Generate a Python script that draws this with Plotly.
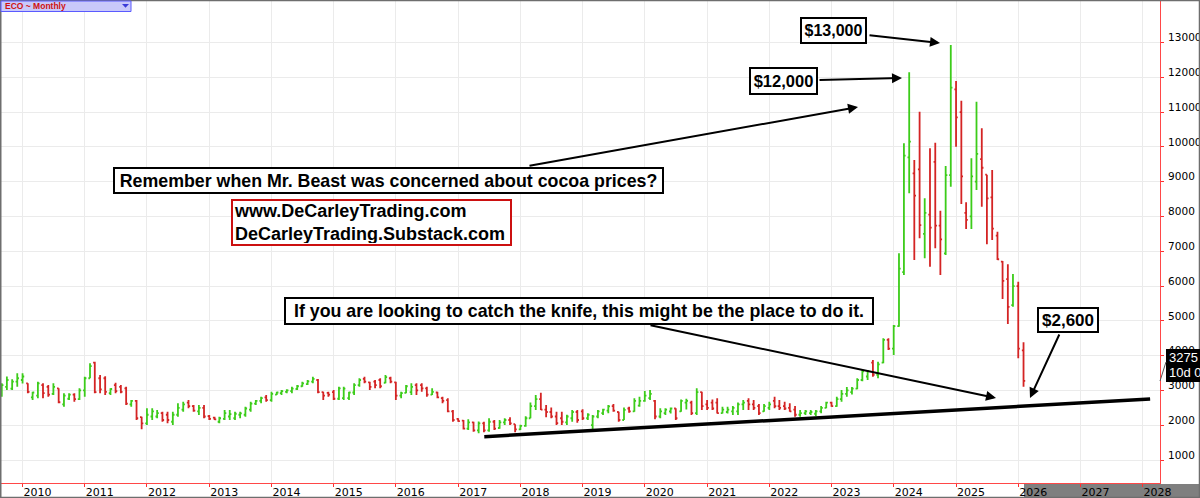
import pandas as pd
import plotly.graph_objects as go

# ---------------- data (monthly OHLC, Sep 2009 .. Feb 2026) ----------------
months = pd.date_range("2009-09-01", periods=198, freq="MS")

open_ = [
    2850, 3100, 3050, 3250,
    3300, 3200, 2800, 2850, 3150, 3100, 2900, 3060, 2600, 2760, 2880, 2750,
    3000, 3350, 3800, 3350, 3350, 2920, 3150, 3100, 3060, 2600, 2700, 2230,
    2050, 2250, 2250, 2350, 2300, 2100, 2300, 2450, 2650, 2550, 2400, 2500,
    2260, 2220, 2100, 2180, 2250, 2200, 2300, 2300, 2450, 2620, 2700, 2800,
    2720, 2880, 2920, 2960, 2980, 3040, 3120, 3180, 3250, 3300, 2950, 2930,
    2950, 2760, 2780, 2780, 2940, 3150, 3330, 3230, 3250, 3300, 3220, 3350,
    3230, 2850, 2930, 2950, 3150, 3150, 3060, 2880, 2940, 2780, 2720, 2400,
    2180, 2130, 1900, 2080, 1850, 2050, 1850, 2100, 1920, 2080, 2150, 2030,
    1880, 1980, 2200, 2550, 2750, 2450, 2380, 2250, 2200, 2080, 2200, 2380,
    2400, 2200, 2000, 2250, 2350, 2420, 2550, 2380, 2150, 2480, 2400, 2560,
    2700, 2780, 2700, 2250, 2350, 2400, 2480, 2400, 2650, 2650, 2350, 2950,
    2600, 2650, 2650, 2350, 2380, 2400, 2400, 2600, 2700, 2600, 2550, 2400,
    2500, 2700, 2550, 2550, 2500, 2450, 2300, 2350, 2350, 2330, 2400, 2500,
    2650, 2550, 2750, 2900, 2950, 3050, 3300, 3400, 3800, 3450, 3800, 4450,
    4200, 4850, 6400, 9700, 9240, 9350, 7500, 8050, 9570, 7735, 6940, 9190,
    11650, 11000, 8100, 8000, 9000, 9650, 9200, 8550, 7450, 6700, 6200, 5450,
    6000, 4150,
]
high = [
    3204, 3400, 3320, 3490,
    3490, 3204, 2964, 3250, 3204, 3156, 3204, 3060, 2916, 2916, 2916, 3060,
    3395, 3778, 3826, 3443, 3410, 3060, 3222, 3156, 3108, 2725, 2725, 2246,
    2485, 2485, 2437, 2389, 2389, 2389, 2629, 2677, 2725, 2581, 2581, 2581,
    2293, 2246, 2246, 2437, 2437, 2389, 2389, 2533, 2677, 2725, 2820, 2868,
    2964, 2964, 3012, 3030, 3108, 3156, 3251, 3299, 3395, 3330, 2964, 2964,
    3012, 3108, 3108, 2964, 3204, 3347, 3395, 3251, 3299, 3347, 3443, 3395,
    3251, 2964, 3156, 3204, 3204, 3204, 3108, 3060, 2964, 2820, 2772, 2437,
    2200, 2150, 2170, 2100, 2110, 2100, 2197, 2150, 2150, 2197, 2230, 2030,
    2010, 2260, 2650, 2870, 2930, 2580, 2510, 2390, 2390, 2300, 2437, 2437,
    2460, 2341, 2293, 2437, 2470, 2580, 2610, 2389, 2510, 2533, 2772, 2820,
    2980, 3012, 2724, 2485, 2485, 2510, 2485, 2740, 2760, 2700, 3060, 2964,
    2724, 2740, 2772, 2530, 2530, 2550, 2650, 2724, 2772, 2724, 2610, 2610,
    2676, 2820, 2724, 2676, 2628, 2550, 2437, 2437, 2437, 2437, 2550, 2676,
    2676, 2820, 3012, 3100, 3100, 3347, 3600, 3590, 3874, 3826, 4497, 4497,
    4880, 6940, 10101, 12142, 9622, 11011, 8520, 9958, 10120, 8166, 9450, 12927,
    11892, 11327, 8405, 9670, 11298, 10532, 9200, 9335, 7562, 6720, 6623, 6345,
    6125, 4382,
]
low = [
    2820, 3012, 3012, 3108,
    3200, 2916, 2725, 2772, 2772, 2820, 2868, 2629, 2533, 2725, 2677, 2725,
    2820, 3347, 2916, 2916, 2868, 2868, 2916, 2916, 2581, 2533, 2150, 1882,
    2006, 2150, 2198, 2102, 2054, 2006, 2246, 2389, 2485, 2389, 2293, 2198,
    2150, 2150, 2054, 2150, 2150, 2150, 2198, 2246, 2389, 2581, 2629, 2677,
    2677, 2868, 2868, 2916, 2916, 3012, 3108, 3156, 3204, 2916, 2725, 2820,
    2725, 2725, 2725, 2725, 2868, 3108, 3204, 3012, 3060, 3060, 3204, 3204,
    2725, 2772, 2916, 2868, 2868, 2964, 2820, 2868, 2772, 2630, 2370, 2102,
    2100, 1880, 1862, 1814, 1766, 1800, 1814, 1862, 1900, 2006, 2006, 1800,
    1860, 1958, 2197, 2437, 2440, 2230, 2200, 2006, 2006, 2006, 2102, 2070,
    2150, 2150, 1882, 2197, 2293, 2341, 2389, 2102, 2150, 2360, 2389, 2533,
    2676, 2724, 2170, 2197, 2293, 2340, 2150, 2390, 2450, 2290, 2290, 2437,
    2437, 2437, 2340, 2340, 2340, 2290, 2290, 2437, 2437, 2437, 2293, 2389,
    2437, 2485, 2437, 2437, 2389, 2245, 2245, 2293, 2293, 2265, 2341, 2485,
    2532, 2532, 2676, 2820, 2880, 3030, 3260, 3299, 3395, 3347, 3780, 4164,
    4018, 4833, 6317, 8664, 6748, 7371, 6796, 6557, 7084, 6317, 6892, 8855,
    10005, 8357, 7639, 7639, 8760, 8280, 7198, 7323, 6748, 5627, 4909, 5407,
    3922, 3108,
]
close = [
    3150, 3300, 3250, 3350,
    3400, 2960, 2940, 3200, 2920, 2880, 3100, 2660, 2850, 2880, 2750, 3000,
    3350, 3700, 2950, 3030, 2960, 3040, 2980, 2960, 2620, 2700, 2200, 2050,
    2300, 2400, 2350, 2150, 2150, 2300, 2500, 2600, 2550, 2420, 2500, 2250,
    2180, 2170, 2200, 2350, 2320, 2330, 2340, 2480, 2620, 2700, 2780, 2720,
    2900, 2940, 2980, 3000, 3050, 3120, 3200, 3260, 3330, 2950, 2850, 2880,
    2760, 3060, 3050, 2940, 3150, 3300, 3250, 3100, 3150, 3120, 3380, 3250,
    2850, 2920, 3120, 3100, 3000, 3060, 2880, 2960, 2800, 2700, 2400, 2150,
    2120, 1900, 2080, 1850, 2050, 1850, 2100, 1900, 2080, 2150, 2050, 1880,
    1980, 2200, 2550, 2750, 2450, 2380, 2250, 2060, 2100, 2250, 2380, 2150,
    2200, 2300, 2250, 2400, 2450, 2540, 2420, 2150, 2440, 2400, 2700, 2700,
    2850, 2900, 2250, 2400, 2450, 2480, 2200, 2700, 2700, 2350, 2950, 2550,
    2500, 2480, 2350, 2450, 2450, 2500, 2600, 2650, 2600, 2500, 2350, 2550,
    2600, 2550, 2500, 2480, 2400, 2300, 2350, 2400, 2380, 2400, 2500, 2650,
    2550, 2750, 2900, 3000, 3050, 3300, 3550, 3550, 3450, 3750, 4450, 4200,
    4850, 6500, 9750, 10150, 8600, 7750, 8100, 7680, 7735, 7340, 9190, 11700,
    10850, 9150, 7900, 9150, 9800, 9400, 8520, 7650, 6770, 6150, 5400, 6000,
    4200, 3275,
]

y_ticks = [1000, 2000, 3000, 4000, 5000, 6000, 7000, 8000, 9000, 10000, 11000, 12000, 13000]
trend_x = ["2017-06-03", "2028-02-14"]
trend_y = [1670, 2753]
last_price = "3275"

# ---------------- geometry helpers (layout only) ----------------
W, H = 1200, 498
ML, MR, MT, MB = 1, 40, 1, 15
PW = W - ML - MR
PH = H - MT - MB


def px(X):
    return (X - ML) / PW


def py(Y):
    return (H - MB - Y) / PH


fig = go.Figure()
fig.add_trace(go.Ohlc(
    x=months, open=open_, high=high, low=low, close=close,
    increasing=dict(line=dict(color="#3ccc1a", width=1.8)),
    decreasing=dict(line=dict(color="#d42424", width=1.8)),
    tickwidth=0.35, hoverinfo="skip", showlegend=False,
))
fig.add_trace(go.Scatter(
    x=trend_x, y=trend_y, mode="lines",
    line=dict(color="black", width=3.5), hoverinfo="skip", showlegend=False,
))

grid = "#ebebeb"
fig.update_layout(
    width=W, height=H,
    margin=dict(l=ML, r=MR, t=MT, b=MB, autoexpand=False),
    paper_bgcolor="white", plot_bgcolor="white",
    showlegend=False,
    xaxis=dict(
        type="date", range=["2009-08-27 12:00", "2028-04-12"],
        rangeslider=dict(visible=False), automargin=False,
        dtick="M12", tick0="2010-01-01", tickformat="%Y",
        showgrid=True, gridcolor=grid, gridwidth=1,
        ticks="outside", ticklen=3, tickcolor="#ff3030",
        showline=True, linecolor="#ff4848", linewidth=1,
        zeroline=False, ticklabelshift=15, ticklabelstandoff=-4,
        tickfont=dict(family="DejaVu Sans", size=11, color="black"),
        fixedrange=True,
    ),
    yaxis=dict(
        side="right", range=[339, 14192], automargin=False,
        tickvals=y_ticks, ticktext=[str(v) for v in y_ticks],
        showgrid=True, gridcolor=grid, gridwidth=1,
        ticks="outside", ticklen=3, tickcolor="#ff3030",
        showline=True, linecolor="#ff4848", linewidth=1,
        zeroline=False, ticklabelshift=-5, ticklabelstandoff=2,
        tickfont=dict(family="DejaVu Sans", size=10.5, color="black"),
        fixedrange=True,
    ),
)

shapes = []
# grey "future" band under the time axis
shapes.append(dict(type="rect", xref="paper", yref="paper",
                   x0=px(1024), x1=px(1201), y0=py(484), y1=py(499),
                   fillcolor="#7f7f7f", line=dict(width=0), layer="below"))
# outer frame
shapes.append(dict(type="line", xref="paper", yref="paper", x0=px(0.5), x1=px(0.5),
                   y0=py(0), y1=py(498), line=dict(color="#6e6e6e", width=2)))
shapes.append(dict(type="line", xref="paper", yref="paper", x0=px(0), x1=px(1200),
                   y0=py(0.5), y1=py(0.5), line=dict(color="#6e6e6e", width=1.5)))
shapes.append(dict(type="line", xref="paper", yref="paper", x0=px(1199.5), x1=px(1199.5),
                   y0=py(0), y1=py(498), line=dict(color="#6e6e6e", width=1.5)))
shapes.append(dict(type="line", xref="paper", yref="paper", x0=px(0), x1=px(1200),
                   y0=py(497.5), y1=py(497.5), line=dict(color="#6e6e6e", width=1.5)))
# symbol widget
shapes.append(dict(type="rect", xref="paper", yref="paper",
                   x0=px(1), x1=px(131), y0=py(1), y1=py(11.5),
                   fillcolor="#c9c9fa", line=dict(color="#5a5aff", width=1)))
shapes.append(dict(type="path", xref="paper", yref="paper",
                   path=f"M {px(122)} {py(4)} L {px(129)} {py(4)} L {px(125.5)} {py(7.8)} Z",
                   fillcolor="#3b3bd8", line=dict(width=0)))
# last price box
shapes.append(dict(type="rect", xref="paper", yref="paper",
                   x0=px(1166), x1=px(1201), y0=py(349), y1=py(382),
                   fillcolor="black", line=dict(width=0)))
shapes.append(dict(type="line", xref="paper", yref="paper",
                   x0=px(1160), x1=px(1166), y0=py(381), y1=py(362),
                   line=dict(color="#555555", width=1)))
fig.update_layout(shapes=shapes)

annotations = []


def box(text, cx, cy, w, h, size=17.8, border="black", align="center"):
    annotations.append(dict(
        xref="paper", yref="paper", x=px(cx), y=py(cy),
        xanchor="center", yanchor="middle", text=text, showarrow=False,
        font=dict(family="Liberation Sans, Arial", size=size, color="black", weight="bold"),
        align=align, bgcolor="white", bordercolor=border,
        borderwidth=2, borderpad=1, width=w - 6, height=h - 6,
    ))


def arrow(tail, tip):
    annotations.append(dict(
        xref="paper", yref="paper", x=px(tip[0]), y=py(tip[1]),
        ax=tail[0] - tip[0], ay=tail[1] - tip[1], text="",
        showarrow=True, arrowhead=2, arrowsize=1, arrowwidth=2,
        arrowcolor="black", standoff=0, startstandoff=0,
    ))


box("$13,000", 833, 30, 67, 27, size=16)
box("$12,000", 783, 81, 69, 28, size=16.5)
box("Remember when Mr. Beast was concerned about cocoa prices?", 388.5, 180.5, 551, 27)
box("www.DeCarleyTrading.com<br>DeCarleyTrading.Substack.com", 371.5, 222.5, 281, 47,
    size=18, border="#cc1010", align="left")
box("If you are looking to catch the knife, this might be the place to do it.", 579, 311, 590, 28)
box("$2,600", 1067.5, 320, 62, 26, size=17)

arrow((868, 35), (940, 43))
arrow((818, 80), (902, 78))
arrow((528, 166), (858, 107))
arrow((649, 325), (996, 398))
arrow((1060, 333), (1030, 398))

annotations.append(dict(xref="paper", yref="paper", x=px(3), y=py(6), xanchor="left",
                        yanchor="middle", text="ECO ~ Monthly", showarrow=False,
                        font=dict(family="Liberation Sans, Arial", size=8.5,
                                  color="#d01010", weight="bold")))
annotations.append(dict(xref="paper", yref="paper", x=px(1167), y=py(357), xanchor="left",
                        yanchor="middle", text=last_price, showarrow=False,
                        font=dict(family="Liberation Sans, Arial", size=13, color="white")))
annotations.append(dict(xref="paper", yref="paper", x=px(1167), y=py(372), xanchor="left",
                        yanchor="middle", text="10d 0", showarrow=False,
                        font=dict(family="Liberation Sans, Arial", size=13, color="white")))
fig.update_layout(annotations=annotations)

fig.write_html("out.html", config=dict(displayModeBar=False, staticPlot=True))
